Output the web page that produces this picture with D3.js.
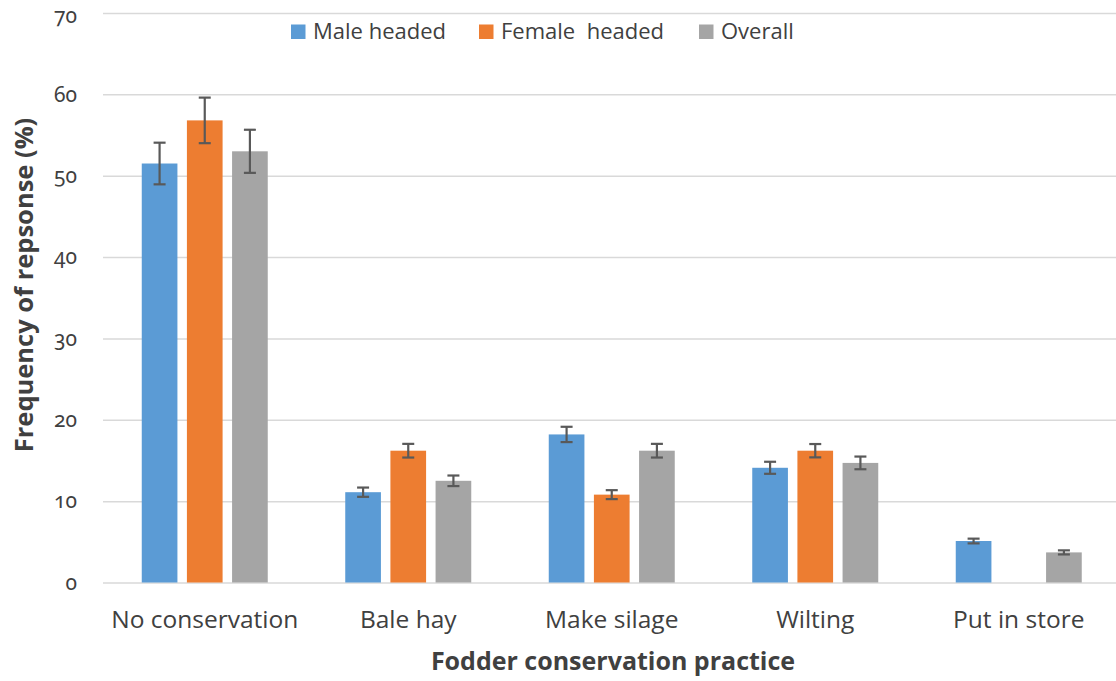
<!DOCTYPE html>
<html>
<head>
<meta charset="utf-8">
<script src="https://cdn.jsdelivr.net/npm/d3@7"></script>
<style>
  html, body { margin: 0; padding: 0; background: #fff; }
  svg { display: block; }
</style>
</head>
<body>
<svg id="chart" width="1116" height="681"></svg>
<script>
const categories = ["No conservation", "Bale hay", "Make silage", "Wilting", "Put in store"];
const seriesNames = ["Male headed", "Female  headed", "Overall"];
const maleValues   = [51.5, 11.1, 18.2, 14.1, 5.1];
const femaleValues = [56.8, 16.2, 10.8, 16.2, 0.0];
const overallValues = [53.0, 12.5, 16.2, 14.7, 3.7];
const maleErrors   = [2.56, 0.57, 0.94, 0.74, 0.29];
const femaleErrors = [2.8, 0.84, 0.55, 0.82, 0.0];
const overallErrors = [2.65, 0.65, 0.84, 0.78, 0.25];
const yTicks = [0, 10, 20, 30, 40, 50, 60, 70];
const colors = ["#5B9BD5", "#ED7D31", "#A5A5A5"];

const valuesBySeries = [maleValues, femaleValues, overallValues];
const errorsBySeries = [maleErrors, femaleErrors, overallErrors];

const svg = d3.select("#chart");
const textColor = "#404040";
const margin = { left: 103, right: -4.5, top: 13, bottom: 98.5 };
const W = 1116, H = 681;

const x0 = d3.scaleBand().domain(categories).range([margin.left, W - margin.right]).paddingInner(0).paddingOuter(0);
const groupW = 126;
const x1 = d3.scaleBand().domain(seriesNames).range([0, groupW]).paddingInner(0.21).paddingOuter(0);
const y = d3.scaleLinear().domain([0, 70]).range([H - margin.bottom, margin.top]);

// gridlines + y tick labels
const yAxis = d3.axisLeft(y).tickValues(yTicks).tickSize(-(W - margin.left)).tickFormat(d3.format("d")).tickPadding(26);
const gAxis = svg.append("g").attr("transform", `translate(${margin.left},0)`).call(yAxis);
gAxis.select(".domain").remove();
gAxis.selectAll(".tick line").attr("stroke", "#D9D9D9").attr("stroke-width", 1.5);
gAxis.selectAll(".tick text")
  .attr("fill", textColor)
  .attr("dy", d => d === 70 ? "0.47em" : "0.32em")
  .style("font-family", "'Noto Sans', 'DejaVu Sans', sans-serif")
  .style("font-feature-settings", "'onum' 1")
  .style("font-variant-numeric", "oldstyle-nums")
  .style("font-size", "21px");

// bars
const data = [];
categories.forEach((c, i) => {
  seriesNames.forEach((s, j) => {
    data.push({ cat: c, s, j, v: valuesBySeries[j][i], e: errorsBySeries[j][i] });
  });
});

const gBars = svg.append("g");
gBars.selectAll("rect").data(data).enter().append("rect")
  .attr("x", d => x0(d.cat) + (x0.bandwidth() - groupW) / 2 + x1(d.s))
  .attr("y", d => y(d.v))
  .attr("width", x1.bandwidth())
  .attr("height", d => Math.max(0, y(0) - y(d.v)))
  .attr("fill", d => colors[d.j]);

// error bars
const gErr = svg.append("g").attr("stroke", "#595959").attr("stroke-width", 2.2).attr("fill", "none");
const capW = 12;
data.filter(d => d.e > 0).forEach(d => {
  const cx = x0(d.cat) + (x0.bandwidth() - groupW) / 2 + x1(d.s) + x1.bandwidth() / 2;
  const yt = y(d.v + d.e), yb = y(d.v - d.e);
  gErr.append("line").attr("x1", cx).attr("x2", cx).attr("y1", yt).attr("y2", yb);
  gErr.append("line").attr("x1", cx - capW / 2).attr("x2", cx + capW / 2).attr("y1", yt).attr("y2", yt);
  gErr.append("line").attr("x1", cx - capW / 2).attr("x2", cx + capW / 2).attr("y1", yb).attr("y2", yb);
});

// category labels
const xAxis = d3.axisBottom(x0).tickSize(0).tickPadding(28);
const gx = svg.append("g").attr("transform", `translate(0,${y(0)})`).call(xAxis);
gx.select(".domain").remove();
gx.selectAll(".tick text")
  .attr("fill", textColor)
  .style("font-family", "'Open Sans', 'Noto Sans', sans-serif")
  .style("font-size", "24.5px");

// axis titles
svg.append("text")
  .attr("x", 613).attr("y", 670)
  .attr("text-anchor", "middle")
  .attr("fill", textColor)
  .style("font-family", "'Open Sans', 'Noto Sans', sans-serif")
  .style("font-weight", "bold")
  .style("font-size", "25px")
  .text("Fodder conservation practice");

svg.append("text")
  .attr("transform", "translate(33,285) rotate(-90)")
  .attr("text-anchor", "middle")
  .attr("fill", textColor)
  .style("font-family", "'Open Sans', 'Noto Sans', sans-serif")
  .style("font-weight", "bold")
  .style("font-size", "25.5px")
  .text("Frequency of repsonse (%)");

// legend
const legendX = [291, 479, 699];
const gLeg = svg.append("g");
seriesNames.forEach((s, j) => {
  gLeg.append("rect").attr("x", legendX[j]).attr("y", 24.5).attr("width", 14.5).attr("height", 14.5).attr("fill", colors[j]);
  gLeg.append("text").attr("x", legendX[j] + 22).attr("y", 39)
    .attr("fill", textColor)
    .style("font-family", "'Open Sans', 'Noto Sans', sans-serif")
    .style("font-size", "22px")
    .style("white-space", "pre")
    .attr("xml:space", "preserve")
    .text(s);
});
</script>
</body>
</html>
